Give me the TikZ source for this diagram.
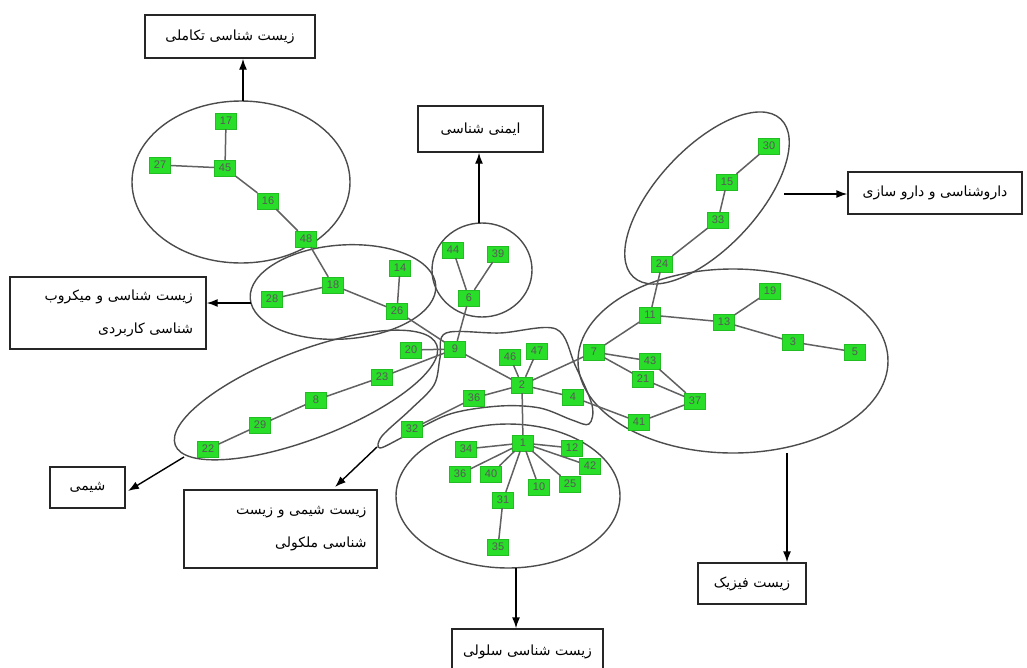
\documentclass[tikz,border=0pt]{standalone}
\usepackage{fontspec}
\setsansfont{Liberation Sans}
\newfontfamily\fa[Script=Arabic]{DejaVu Sans}
\TeXXeTstate=1
\usetikzlibrary{arrows.meta}
\definecolor{ndgreen}{RGB}{40,222,40}
\begin{document}
\begin{tikzpicture}[x=1pt,y=1pt,
 nd/.style={fill=ndgreen, draw=ndgreen!85!black, line width=0.3pt, minimum width=21pt, minimum height=16pt, inner sep=0pt, font=\sffamily\fontsize{11}{11}\selectfont, text=black!65},
 ed/.style={draw=black!62, line width=1.5pt},
 grp/.style={draw=black!70, line width=1.4pt},
 lab/.style={draw=black!85, line width=1.4pt, fill=white, font=\fa\fontsize{14}{33}\selectfont, inner sep=0pt},
 arr/.style={-{Latex[length=11pt,width=8pt]}, line width=1.4pt, draw=black}]
\useasboundingbox (0,0) rectangle (1027,-667);
% group outlines
\draw[grp] (241,-182) ellipse [x radius=109, y radius=81];
\draw[grp, rotate around={4:(343,-292)}] (343,-292) ellipse [x radius=93, y radius=47];
\draw[grp] (482,-270) ellipse [x radius=50, y radius=47];
\draw[grp, rotate around={21:(306,-395)}] (306,-395) ellipse [x radius=140, y radius=44];
\draw[grp, rotate around={47:(707,-198)}] (707,-198) ellipse [x radius=108, y radius=50];
\draw[grp] (733,-361) ellipse [x radius=155, y radius=92];
\draw[grp] (508,-496) ellipse [x radius=112, y radius=72];
\draw[grp] plot[smooth cycle, tension=0.55] coordinates {(446,-333) (500,-333) (556,-329) (575,-365) (592,-405) (589,-424) (572,-420) (540,-408) (500,-406) (450,-414) (405,-436) (380,-448) (382,-436) (410,-410) (434,-385) (440,-358)};
% nodes
\node[nd] (n17) at (226,-121) {17};
\node[nd] (n45) at (225,-168) {45};
\node[nd] (n27) at (160,-165) {27};
\node[nd] (n16) at (268,-201) {16};
\node[nd] (n48) at (306,-239) {48};
\node[nd] (n18) at (333,-285) {18};
\node[nd] (n28) at (272,-299) {28};
\node[nd] (n14) at (400,-268) {14};
\node[nd] (n26) at (397,-311) {26};
\node[nd] (n44) at (453,-250) {44};
\node[nd] (n39) at (498,-254) {39};
\node[nd] (n6) at (469,-298) {6};
\node[nd] (n9) at (455,-349) {9};
\node[nd] (n20) at (411,-350) {20};
\node[nd] (n23) at (382,-377) {23};
\node[nd] (n8) at (316,-400) {8};
\node[nd] (n29) at (260,-425) {29};
\node[nd] (n22) at (208,-449) {22};
\node[nd] (n46) at (510,-357) {46};
\node[nd] (n47) at (537,-351) {47};
\node[nd] (n2) at (522,-385) {2};
\node[nd] (n36) at (474,-398) {36};
\node[nd] (n4) at (573,-397) {4};
\node[nd] (n32) at (412,-429) {32};
\node[nd] (n1) at (523,-443) {1};
\node[nd] (n34) at (466,-449) {34};
\node[nd] (n12) at (572,-448) {12};
\node[nd] (n36b) at (460,-474) {36};
\node[nd] (n40) at (491,-474) {40};
\node[nd] (n10) at (539,-487) {10};
\node[nd] (n25) at (570,-484) {25};
\node[nd] (n42) at (590,-466) {42};
\node[nd] (n31) at (503,-500) {31};
\node[nd] (n35) at (498,-547) {35};
\node[nd] (n7) at (594,-352) {7};
\node[nd] (n11) at (650,-315) {11};
\node[nd] (n13) at (724,-322) {13};
\node[nd] (n19) at (770,-291) {19};
\node[nd] (n3) at (793,-342) {3};
\node[nd] (n5) at (855,-352) {5};
\node[nd] (n43) at (650,-361) {43};
\node[nd] (n21) at (643,-379) {21};
\node[nd] (n37) at (695,-401) {37};
\node[nd] (n41) at (639,-422) {41};
\node[nd] (n24) at (662,-264) {24};
\node[nd] (n33) at (718,-220) {33};
\node[nd] (n15) at (727,-182) {15};
\node[nd] (n30) at (769,-146) {30};
% edges
\foreach \a/\b in {17/45,27/45,45/16,16/48,48/18,18/28,18/26,14/26,26/9,44/6,39/6,6/9,9/20,9/23,23/8,8/29,29/22,9/2,2/46,2/47,2/36,36/32,2/4,2/7,2/1,1/34,1/36b,1/40,1/31,1/10,1/25,1/42,1/12,31/35,7/11,11/24,24/33,33/15,15/30,11/13,13/19,13/3,3/5,7/43,7/21,43/37,21/37,37/41,4/41}
  \draw[ed] (n\a) -- (n\b);
% labels
\node[lab, minimum width=170pt, minimum height=43pt] (Levo) at (230,-36.5) {\beginR زیست شناسی تکاملی\endR};
\node[lab, minimum width=125pt, minimum height=46pt] (Limm) at (480.5,-129) {\beginR ایمنی شناسی\endR};
\node[lab, minimum width=174pt, minimum height=42pt] (Lpha) at (935,-193) {\beginR داروشناسی و دارو سازی\endR};
\node[lab, minimum width=196pt, minimum height=72pt, text width=170pt, align=right] (Lmic) at (108,-313) {\beginR زیست شناسی و میکروب\endR\\\beginR شناسی کاربردی\endR};
\node[lab, minimum width=75pt, minimum height=41pt] (Lche) at (87.5,-487.5) {\beginR شیمی\endR};
\node[lab, minimum width=193pt, minimum height=78pt, text width=172pt, align=right] (Lbio) at (280.5,-529) {\beginR زیست شیمی و زیست\endR\\\beginR شناسی ملکولی\endR};
\node[lab, minimum width=151pt, minimum height=45pt] (Lcel) at (527.5,-651.5) {\beginR زیست شناسی سلولی\endR};
\node[lab, minimum width=108pt, minimum height=41pt] (Lphy) at (752,-583.5) {\beginR زیست فیزیک\endR};
% arrows
\coordinate (aevo) at (243,-101);
\coordinate (aimm) at (479,-223);
\coordinate (apha) at (784,-194);
\coordinate (amic) at (251,-303);
\coordinate (ache) at (184,-457);
\coordinate (abio) at (377,-447);
\coordinate (acel) at (516,-568);
\coordinate (aphy) at (787,-453);
\draw[arr] (aevo) -- (aevo |- Levo.south);
\draw[arr] (aimm) -- (aimm |- Limm.south);
\draw[arr] (apha) -- (apha -| Lpha.west);
\draw[arr] (amic) -- (amic -| Lmic.east);
\draw[arr] (ache) -- (128,-491);
\draw[arr] (abio) -- (335,-487);
\draw[arr] (acel) -- (acel |- Lcel.north);
\draw[arr] (aphy) -- (aphy |- Lphy.north);
\end{tikzpicture}
\end{document}
